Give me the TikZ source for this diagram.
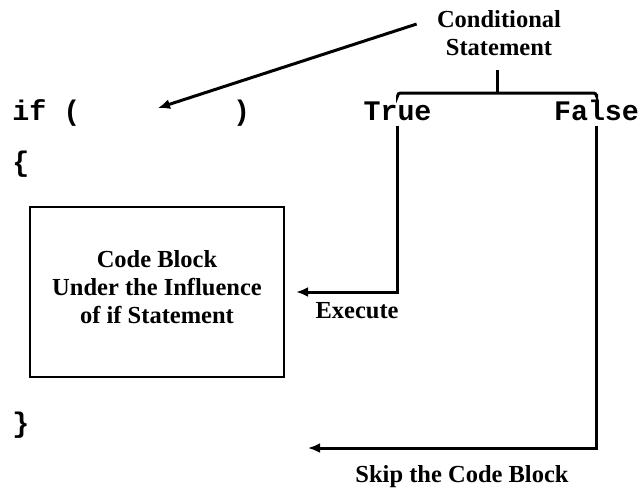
\documentclass[tikz,border=0pt]{standalone}
\usepackage{fontspec}
\setmainfont{Liberation Serif}
\setmonofont{Liberation Mono}
\usepackage{tikz}
\usetikzlibrary{positioning}
\usetikzlibrary{arrows.meta}

\begin{document}
\begin{tikzpicture}
    [
    x=0.5pt, y=-0.5pt,
    note/.style={font=\fontsize{12.25}{14.2}\selectfont\bfseries, align=center, inner sep=0pt},
    code/.style={font=\fontsize{14.15}{17}\selectfont\ttfamily\bfseries, inner sep=0pt},
    word/.style={code, inner sep=2.5pt},
    block/.style={draw, line width=1.1pt, minimum width=127pt, minimum height=85pt, text depth=5pt, note},
    wire/.style={line width=1.5pt},
    tip/.style={-{Latex[length=6pt,width=5pt]}}
    ]
    \useasboundingbox (0,0) rectangle (641,489);

    \node (cond) at (499,33) [note] {Conditional\\Statement};
    \node (ifline) at (12,120) [code, anchor=base west] {if (\phantom{xxxxxxxxx})};
    \node (open) at (12,171) [code, anchor=base west] {\{};
    \node (close) at (12,432) [code, anchor=base west] {\}};
    \node (tru) at (397.5,120) [word, anchor=base] {True};
    \node (fls) at (596.5,120) [word, anchor=base] {False};
    \node (box) at (157,292) [block] {Code Block\\Under the Influence\\of if Statement};
    \node (exe) at (399,318) [note, anchor=base east] {Execute};
    \node (skip) at (462,482) [note, anchor=base] {Skip the Code Block};

    \coordinate (brk) at (497.5,93);
    \coordinate (iftip) at (158,108);
    \coordinate (skiptip) at (308,448);

    \draw [wire, tip] ([xshift=-10pt,yshift=4.5pt]cond.west) to (iftip);
    \draw [wire] (brk) to ++(0,-23);
    \draw [wire, rounded corners=1.5pt] (tru.north) |- (brk) -| (fls.north);
    \draw [wire, tip] (tru.south) |- ([xshift=5.5pt]box.east);
    \draw [wire, tip] (fls.south) |- (skiptip);
  \end{tikzpicture}
\end{document}
